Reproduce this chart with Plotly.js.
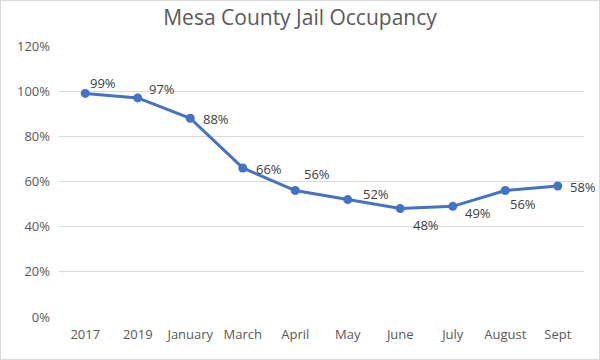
<!DOCTYPE html>
<html>
<head>
<meta charset="utf-8">
<script src="https://cdn.plot.ly/plotly-3.0.1.min.js"></script>
<style>
html,body{margin:0;padding:0;background:#fff;}
#chart{width:600px;height:360px;box-sizing:border-box;border:1px solid #d9d9d9;}
</style>
</head>
<body>
<div id="chart"></div>
<script>
const categories = ["2017","2019","January","March","April","May","June","July","August","Sept"];
const occupancy = [0.99,0.97,0.88,0.66,0.56,0.52,0.48,0.49,0.56,0.58];

// label placement (pixel offsets from each point), style config only
const labelOffsets = [[18,10],[24,9],[26,-1],[26,-1],[22,17],[28,6],[26,-16],[25,-7],[18,-13],[25,-1]];

const trace = {
  x: categories,
  y: occupancy,
  type: "scatter",
  mode: "lines+markers",
  line: {color: "#4472C4", width: 3},
  marker: {color: "#4472C4", size: 9},
  cliponaxis: false,
  hoverinfo: "x+y"
};

const annotations = categories.map((c, i) => ({
  x: i, y: occupancy[i], xref: "x", yref: "y",
  text: Math.round(occupancy[i] * 100) + "%",
  showarrow: false,
  xanchor: "center", yanchor: "middle",
  xshift: labelOffsets[i][0], yshift: labelOffsets[i][1],
  font: {family: "Open Sans, sans-serif", size: 13, color: "#404040"}
}));

const layout = {
  width: 598, height: 358,
  margin: {l: 58, r: 15, t: 45, b: 42},
  paper_bgcolor: "#fff",
  plot_bgcolor: "#fff",
  title: {text: "Mesa County Jail Occupancy", x: 0.5, xanchor: "center", y: 0.975, yanchor: "top",
          font: {family: "Open Sans, sans-serif", size: 21, color: "#595959"}},
  showlegend: false,
  annotations: annotations,
  xaxis: {
    type: "category", range: [-0.5, 9.5],
    showgrid: false, zeroline: false, showline: false,
    ticks: "", ticklabelstandoff: 8,
    tickfont: {family: "Open Sans, sans-serif", size: 13, color: "#595959"}
  },
  yaxis: {
    range: [0, 1.2], dtick: 0.2, tickformat: ".0%",
    showgrid: true, gridcolor: "#d9d9d9", gridwidth: 1,
    zeroline: false, showline: false, ticks: "", ticklabelstandoff: 8,
    tickfont: {family: "Open Sans, sans-serif", size: 13, color: "#595959"}
  }
};

Plotly.newPlot("chart", [trace], layout, {displayModeBar: false, staticPlot: true});
</script>
</body>
</html>
